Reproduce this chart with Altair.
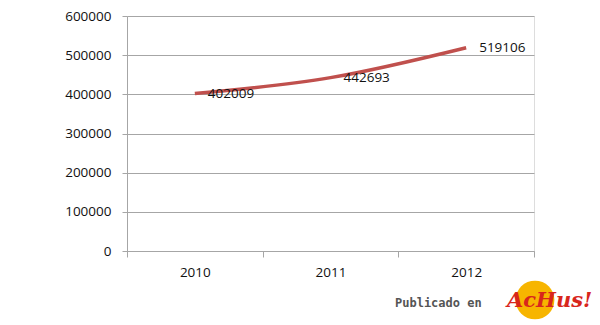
import altair as alt
import pandas as pd

years = [2010, 2011, 2012]
values = [402009, 442693, 519106]
labels = ["402009", "442693", "519106"]
y_ticks = [0, 100000, 200000, 300000, 400000, 500000, 600000]

df = pd.DataFrame({"year": years, "value": values, "label": labels})

FONT = "Open Sans"
GRID = "#a6a6a6"
RED = "#c0504d"

xscale = alt.Scale(domain=[2009.5, 2012.5], nice=False, zero=False)
yscale = alt.Scale(domain=[0, 600000], nice=False)

yaxis = alt.Axis(values=y_ticks, tickCount=7, labelOverlap=False,
                 format="d", grid=True, gridColor=GRID, gridWidth=1,
                 domainColor=GRID, tickColor=GRID, tickSize=5, labelPadding=11,
                 labelFont=FONT, labelFontSize=13.5, labelColor="#111111", title=None)

tick_axis = alt.Axis(values=[2009.5, 2010.5, 2011.5, 2012.5], labels=False, grid=False,
                     orient="bottom", domainColor=GRID, tickColor=GRID, tickSize=6, title=None)
label_axis = alt.Axis(values=years, format="d", ticks=False, domain=False, grid=False,
                      orient="bottom", labelPadding=14, labelFont=FONT, labelFontSize=13.5,
                      labelColor="#111111", title=None)

line = alt.Chart(df).mark_line(color=RED, strokeWidth=3.5, interpolate="monotone").encode(
    x=alt.X("year:Q", scale=xscale, axis=tick_axis),
    y=alt.Y("value:Q", scale=yscale, axis=yaxis),
)

text = alt.Chart(df).mark_text(align="left", baseline="middle", dx=13, font=FONT,
                               fontSize=13.5, color="#111111").encode(
    x=alt.X("year:Q", scale=xscale, axis=label_axis),
    y=alt.Y("value:Q", scale=yscale, axis=yaxis),
    text="label:N",
)

wm = pd.DataFrame({"t": ["Publicado en"]})
wm_text = alt.Chart(wm).mark_text(align="left", baseline="middle", font="DejaVu Sans Mono",
                                  fontWeight="bold", fontSize=12, color="#555555").encode(
    x=alt.value(268), y=alt.value(287), text="t:N")
wm_circle = alt.Chart(wm).mark_point(filled=True, shape="circle", size=1500,
                                     color="#f7b500", opacity=1).encode(
    x=alt.value(408), y=alt.value(284))
wm2 = pd.DataFrame({"t": ["AcHus!"]})
wm_logo = alt.Chart(wm2).mark_text(align="left", baseline="middle", font="DejaVu Serif",
                                   fontWeight="bold", fontStyle="italic", fontSize=21,
                                   color="#d8261c").encode(
    x=alt.value(380), y=alt.value(285), text="t:N")

chart = alt.layer(line, text, wm_text, wm_circle, wm_logo).resolve_axis(
    x="independent"
).properties(
    width=407, height=235,
    autosize=alt.AutoSizeParams(type="none"),
    padding={"left": 127, "top": 16, "right": 66, "bottom": 74},
).configure_view(stroke=None).configure(background="white")

chart.save("out.html", embed_options={"renderer": "svg", "actions": False})
